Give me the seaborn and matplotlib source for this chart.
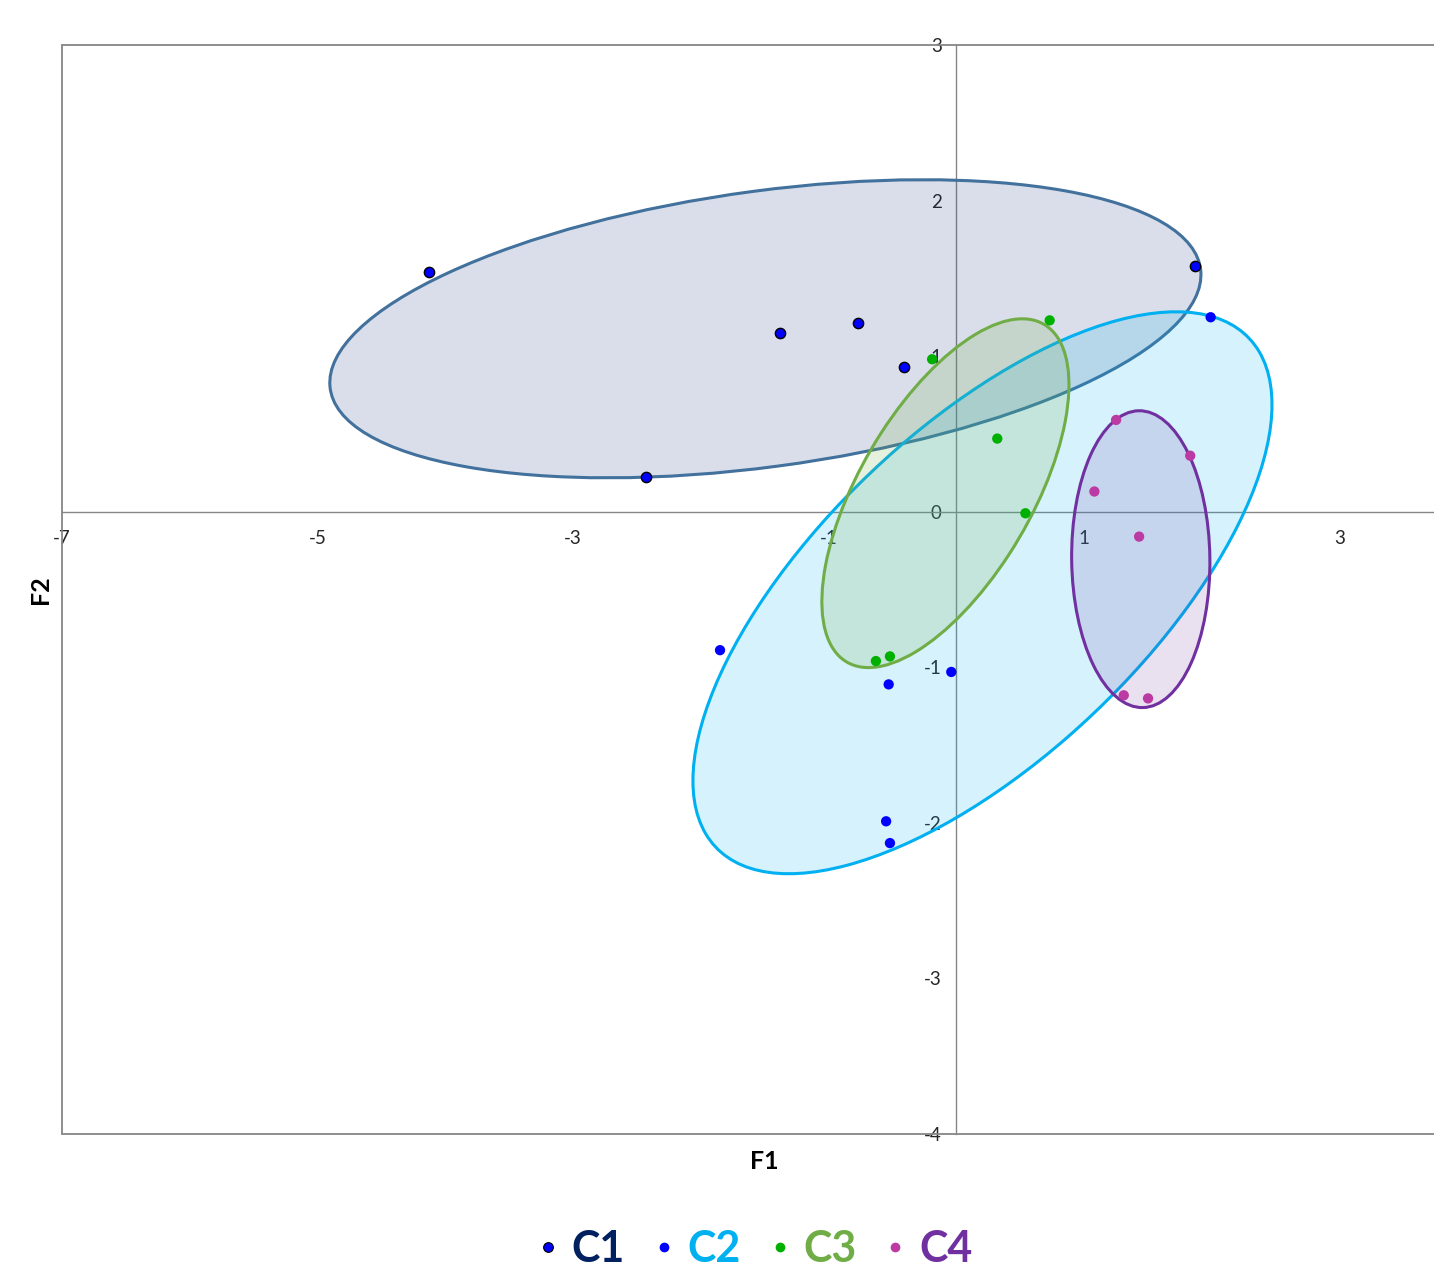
"""
plot.py
-------
Plan factoriel F1 x F2 avec ellipses de confiance par classe (C1..C4).
"""

import numpy as np
import pandas as pd
import matplotlib
matplotlib.use("Agg")
import matplotlib.pyplot as plt
import seaborn as sns
from matplotlib.patches import Ellipse
from matplotlib.lines import Line2D
from matplotlib.colors import to_rgba

# ── Données ─────────────────────────────────────────────────────────────────

CLASSES = ["C1", "C2", "C3", "C4"]

C1_F1 = [-4.13, -1.38, -0.77, -0.41, -2.43, 1.87]
C1_F2 = [1.54, 1.15, 1.21, 0.93, 0.22, 1.58]

C2_F1 = [1.99, -1.85, -0.53, -0.04, -0.55, -0.52]
C2_F2 = [1.25, -0.89, -1.11, -1.03, -1.99, -2.13]

C3_F1 = [0.73, -0.19, 0.32, 0.54, -0.63, -0.52]
C3_F2 = [1.23, 0.98, 0.47, -0.01, -0.96, -0.93]

C4_F1 = [1.25, 1.83, 1.08, 1.43, 1.31, 1.50]
C4_F2 = [0.59, 0.36, 0.13, -0.16, -1.18, -1.20]

# ellipses : centre, demi-étendues en F1 / F2, corrélation
ELL_CX = [-1.495, 0.204, -0.086, 1.443]
ELL_CY = [1.176, -0.521, 0.119, -0.305]
ELL_SX = [3.409, 2.266, 0.967, 0.541]
ELL_SY = [0.958, 1.806, 1.121, 0.954]
ELL_RHO = [0.362, 0.669, 0.622, -0.02]

X_TICKS = [-7, -5, -3, -1, 1, 3]
Y_TICKS = [3, 2, 1, 0, -1, -2, -3, -4]

# ── Styles ──────────────────────────────────────────────────────────────────

POINT_COLOR = {"C1": "#0000ff", "C2": "#0000ff", "C3": "#00b000", "C4": "#bb3aa3"}
POINT_EDGE = {"C1": "black", "C2": "none", "C3": "none", "C4": "none"}
EDGE_COLOR = {"C1": "#41719c", "C2": "#00b0f0", "C3": "#70ad47", "C4": "#7030a0"}
FILL_COLOR = {"C1": ("#1f3c88", 0.17), "C2": ("#00b0f0", 0.16),
              "C3": ("#70ad47", 0.18), "C4": ("#7030a0", 0.15)}
TEXT_COLOR = {"C1": "#002060", "C2": "#00b0f0", "C3": "#70ad47", "C4": "#7030a0"}
AXIS_GRAY = "#868686"

sns.set_theme(style="white")
plt.rcParams["font.family"] = ["Lato", "DejaVu Sans"]

df = pd.DataFrame({
    "F1": C1_F1 + C2_F1 + C3_F1 + C4_F1,
    "F2": C1_F2 + C2_F2 + C3_F2 + C4_F2,
    "classe": [c for c in CLASSES for _ in range(6)],
})

W, H = 1434, 1271
fig = plt.figure(figsize=(W / 100, H / 100), dpi=100)
ax = fig.add_axes([62 / W, (H - 1134) / H, 1 - 62 / W, (1134 - 45) / H])

# ── Ellipses ────────────────────────────────────────────────────────────────
for i, c in enumerate(CLASSES):
    sx, sy, r = ELL_SX[i], ELL_SY[i], ELL_RHO[i]
    cov = np.array([[sx ** 2, r * sx * sy], [r * sx * sy, sy ** 2]])
    vals, vecs = np.linalg.eigh(cov)
    angle = np.degrees(np.arctan2(vecs[1, 1], vecs[0, 1]))
    fc, a = FILL_COLOR[c]
    ell = Ellipse((ELL_CX[i], ELL_CY[i]), 2 * np.sqrt(vals[1]), 2 * np.sqrt(vals[0]),
                  angle=angle, facecolor=to_rgba(fc, a),
                  edgecolor=EDGE_COLOR[c], linewidth=2.2, zorder=2)
    ax.add_patch(ell)

# ── Points ──────────────────────────────────────────────────────────────────
for c in CLASSES:
    sub = df[df["classe"] == c]
    sns.scatterplot(data=sub, x="F1", y="F2", ax=ax, color=POINT_COLOR[c],
                    edgecolor=POINT_EDGE[c], linewidth=1.0 if c == "C1" else 0,
                    s=55, zorder=5, legend=False)

# ── Axes ────────────────────────────────────────────────────────────────────
ax.set_xlim(-7, 3.738)
ax.set_ylim(-4, 3)
ax.set_xticks(X_TICKS)
ax.set_yticks(Y_TICKS)
ax.set_xticklabels([str(v) for v in X_TICKS])
ax.set_yticklabels([str(v) for v in Y_TICKS])
ax.grid(False)

for side in ["top", "right"]:
    ax.spines[side].set_visible(False)
ax.spines["left"].set_position(("data", 0))
ax.spines["bottom"].set_position(("data", 0))
for side in ["left", "bottom"]:
    ax.spines[side].set_color(AXIS_GRAY)
    ax.spines[side].set_linewidth(1.0)
    ax.spines[side].set_zorder(1)

# cadre extérieur (gauche, haut, bas)
for xs, ys in [([0, 0], [0, 1]), ([0, 1], [1, 1]), ([0, 1], [0, 0])]:
    ax.add_line(Line2D(xs, ys, transform=ax.transAxes, color=AXIS_GRAY,
                       linewidth=1.3, clip_on=False, zorder=1))

ax.tick_params(axis="both", direction="inout", length=9, width=1,
               color=AXIS_GRAY, labelsize=13.5, labelcolor="#262626")
ax.tick_params(axis="x", pad=8.5)
ax.tick_params(axis="y", pad=6)

ax.set_xlabel("F1", fontsize=18, fontweight="bold", color="black")
ax.set_ylabel("F2", fontsize=18, fontweight="bold", color="black")
ax.xaxis.set_label_coords(0.512, -0.015)
ax.yaxis.set_label_coords(-0.007, 0.5)

# ── Légende ─────────────────────────────────────────────────────────────────
handles = [Line2D([0], [0], marker="o", linestyle="none", markersize=7,
                  markerfacecolor=POINT_COLOR[c],
                  markeredgecolor="black" if c == "C1" else POINT_COLOR[c],
                  markeredgewidth=0.8 if c == "C1" else 0)
           for c in CLASSES]
leg = fig.legend(handles, CLASSES, loc="center", bbox_to_anchor=(0.527, 0.017),
                 ncol=4, frameon=False, handlelength=0.4, handletextpad=0.35,
                 columnspacing=0.7, prop={"size": 31, "weight": "bold"})
for txt, c in zip(leg.get_texts(), CLASSES):
    txt.set_color(TEXT_COLOR[c])

fig.savefig("out.png", dpi=100)
